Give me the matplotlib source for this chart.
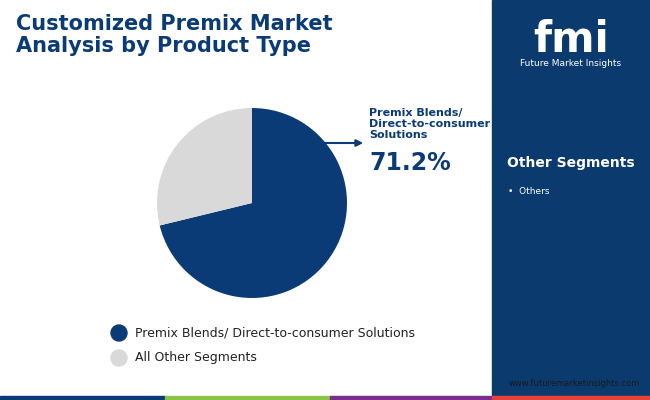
import matplotlib
matplotlib.use("Agg")
import matplotlib.pyplot as plt
from matplotlib.patches import Rectangle, Circle

categories = ["Premix Blends/ Direct-to-consumer Solutions", "All Other Segments"]
values = [71.2, 28.8]
colors = ["#0a3b76", "#d9d9d9"]
other_segments = ["Others"]

W, H = 650, 400
fig = plt.figure(figsize=(6.5, 4), dpi=100)
fig.patch.set_facecolor("white")
bg = fig.add_axes([0, 0, 1, 1]); bg.set_xlim(0, W); bg.set_ylim(H, 0); bg.axis("off")

navy = "#0a3b76"
# right panel
bg.add_patch(Rectangle((492, 0), 158, 400, color="#0b3a6e"))
bg.text(571, 40, "fmi", color="white", fontsize=30, fontweight="bold", ha="center", va="center")
bg.text(571, 64, "Future Market Insights", color="white", fontsize=6.5, ha="center", va="center")
bg.text(571, 163, "Other Segments", color="white", fontsize=10, fontweight="bold", ha="center", va="center")
for i, s in enumerate(other_segments):
    bg.text(508, 191 + 15 * i, "•  " + s, color="white", fontsize=6.5, ha="left", va="center")
bg.text(574, 383, "www.futuremarketinsights.com", color="#1a1a1a", fontsize=6, ha="center", va="center")

# bottom stripe
for x0, x1, c in [(0, 165, "#0a3b76"), (165, 330, "#8bc34a"), (330, 492, "#7b2d8e"), (492, 650, "#e8433b")]:
    bg.add_patch(Rectangle((x0, 396), x1 - x0, 4, color=c))

# title
bg.text(16, 14, "Customized Premix Market\nAnalysis by Product Type", color=navy, fontsize=15,
        fontweight="bold", ha="left", va="top", linespacing=1.15)

# pie
ax = fig.add_axes([(252 - 95) / W, (400 - 298) / H, 190 / W, 190 / H])
ax.pie(values, colors=colors, startangle=90, counterclock=False, radius=1)
ax.set_xlim(-1, 1); ax.set_ylim(-1, 1)
ax.set_aspect("equal")

# annotation
bg.annotate("", xy=(366, 143), xytext=(322, 143),
            arrowprops=dict(arrowstyle="-|>", color=navy, lw=1.5))
bg.text(369, 124, "Premix Blends/\nDirect-to-consumer\nSolutions", color=navy, fontsize=8,
        fontweight="bold", ha="left", va="center", linespacing=1.15)
bg.text(369, 163, f"{values[0]}%", color=navy, fontsize=17, fontweight="bold", ha="left", va="center")

# legend
for i, (cat, c) in enumerate(zip(categories, colors)):
    y = 333 + 25 * i
    bg.add_patch(Circle((119, y), 8, color=c))
    bg.text(135, y, cat, color="#222222", fontsize=9, ha="left", va="center")

fig.savefig("out.png", dpi=100)
